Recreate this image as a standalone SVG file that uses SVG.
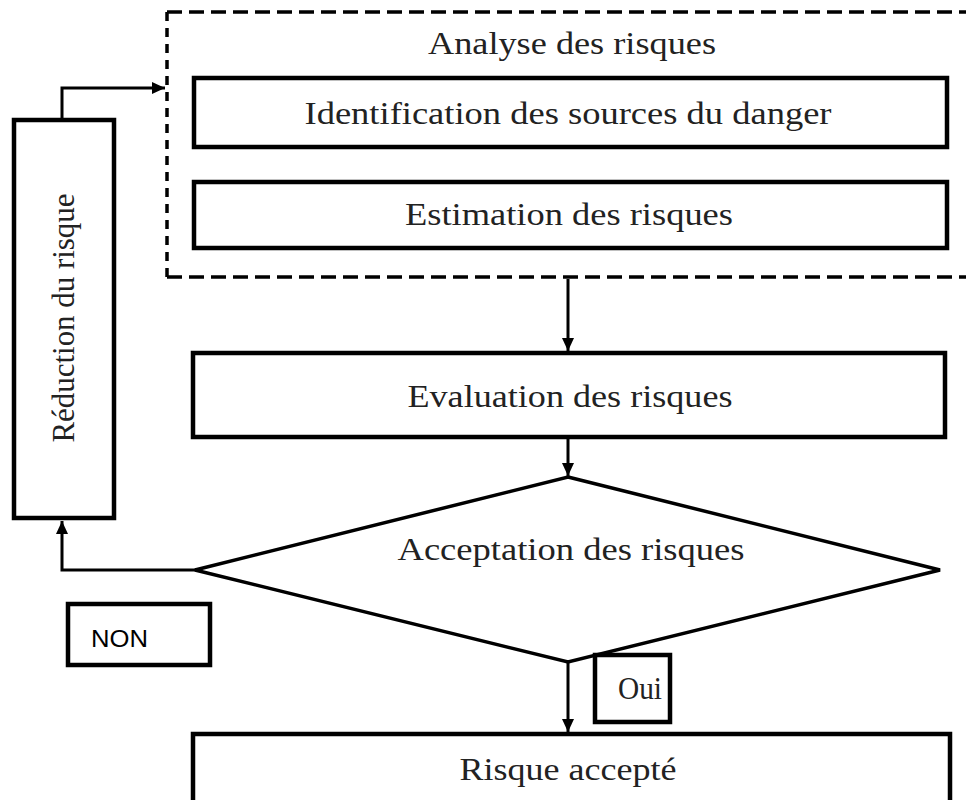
<svg xmlns="http://www.w3.org/2000/svg" width="966" height="800" viewBox="0 0 966 800">
<style>
.box{fill:#fff;stroke:#000;stroke-width:4.5}
.t{font-family:"Liberation Serif","Times New Roman",serif;font-size:31px;fill:#222;text-anchor:middle}
.c{fill:none;stroke:#000;stroke-width:3}
</style>
<defs>
<marker id="ah" markerWidth="14" markerHeight="14" refX="13" refY="6" orient="auto" markerUnits="userSpaceOnUse">
<path d="M0,0 L13,6 L0,12 Z" fill="#000"/>
</marker>
</defs>
<rect width="966" height="800" fill="#fff"/>
<g id="analyse">
<path d="M167,12 H966 M167,277 H966" fill="none" stroke="#000" stroke-width="3.5" stroke-dasharray="15,7"/>
<path d="M167,12 V277" fill="none" stroke="#000" stroke-width="3.5" stroke-dasharray="9,7"/>
<text class="t" x="572" y="54" textLength="288" lengthAdjust="spacingAndGlyphs">Analyse des risques</text>
</g>
<g id="identification">
<rect class="box" x="194" y="78" width="753" height="69"/>
<text class="t" x="568" y="124" textLength="527" lengthAdjust="spacingAndGlyphs">Identification des sources du danger</text>
</g>
<g id="estimation">
<rect class="box" x="194" y="182" width="753" height="66"/>
<text class="t" x="569" y="225" textLength="328" lengthAdjust="spacingAndGlyphs">Estimation des risques</text>
</g>
<g id="evaluation">
<rect class="box" x="193" y="353" width="752" height="84"/>
<text class="t" x="570" y="407" textLength="325" lengthAdjust="spacingAndGlyphs">Evaluation des risques</text>
</g>
<g id="acceptation">
<polygon points="568,477 940,570 568,662 195,570" fill="#fff" stroke="#000" stroke-width="3.5"/>
<text class="t" x="571" y="560" textLength="347" lengthAdjust="spacingAndGlyphs">Acceptation des risques</text>
</g>
<g id="reduction">
<rect class="box" x="14" y="120" width="100" height="398"/>
<text class="t" transform="translate(74,318) rotate(-90)" textLength="249" lengthAdjust="spacingAndGlyphs">Réduction du risque</text>
</g>
<g id="non">
<rect class="box" x="68" y="604" width="142" height="61"/>
<text x="91" y="647" font-family="'Liberation Sans',Arial,sans-serif" font-size="24" fill="#000" textLength="57" lengthAdjust="spacingAndGlyphs">NON</text>
</g>
<g id="oui">
<rect class="box" x="595" y="655" width="75" height="67"/>
<text class="t" x="640" y="699" textLength="44" lengthAdjust="spacingAndGlyphs">Oui</text>
</g>
<g id="accepte">
<rect class="box" x="193" y="734" width="757" height="80"/>
<text class="t" x="568" y="780" textLength="217" lengthAdjust="spacingAndGlyphs">Risque accepté</text>
</g>
<g id="connectors">
<path class="c" d="M568,279 V351" marker-end="url(#ah)"/>
<path class="c" d="M568,439 V476" marker-end="url(#ah)"/>
<path class="c" d="M568,662 V732" marker-end="url(#ah)"/>
<path class="c" d="M195,570 H62 V521" marker-end="url(#ah)"/>
<path class="c" d="M62,118 V88 H165" marker-end="url(#ah)"/>
</g>
</svg>
